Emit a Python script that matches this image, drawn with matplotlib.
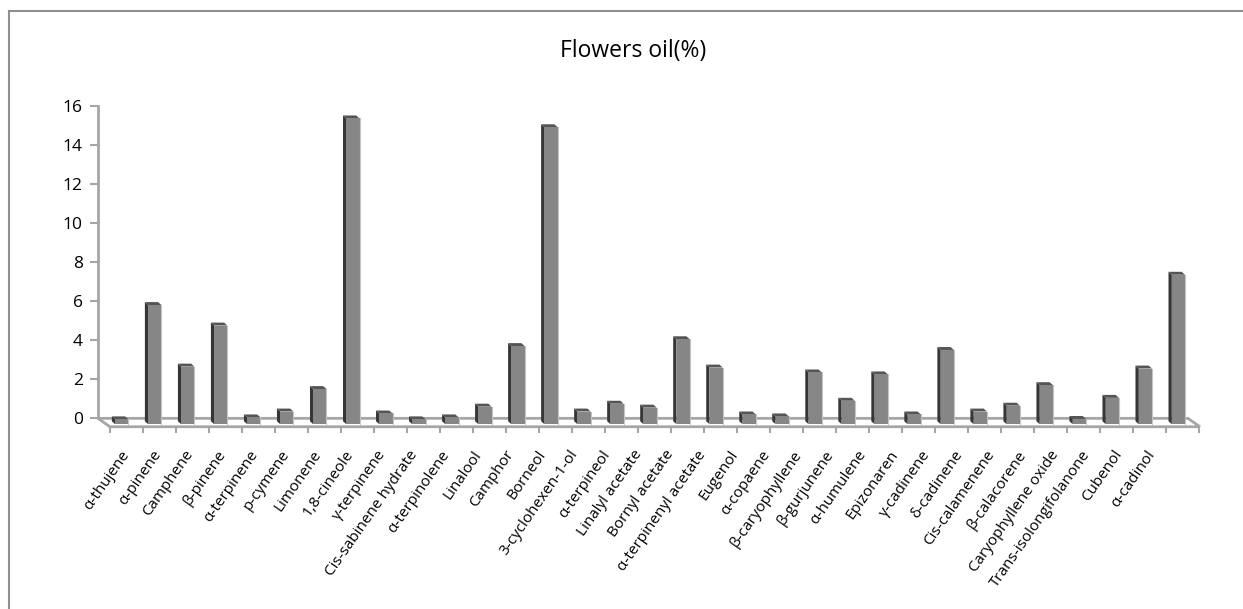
import matplotlib
matplotlib.use("Agg")
import matplotlib.pyplot as plt
from matplotlib.patches import Polygon, Rectangle
from matplotlib.lines import Line2D

plt.rcParams['font.family'] = ['Open Sans', 'DejaVu Sans']

# Composition of the flower essential oil (%)
compounds = [
    'α-thujene', 'α-pinene', 'Camphene', 'β-pinene', 'α-terpinene', 'p-cymene',
    'Limonene', '1,8-cineole', 'γ-terpinene', 'Cis-sabinene hydrate',
    'α-terpinolene', 'Linalool', 'Camphor', 'Borneol', '3-cyclohexen-1-ol',
    'α-terpineol', 'Linalyl acetate', 'Bornyl acetate', 'α-terpinenyl acetate',
    'Eugenol', 'α-copaene', 'β-caryophyllene', 'β-gurjunene', 'α-humulene',
    'Epizonaren', 'γ-cadinene', 'δ-cadinene', 'Cis-calamenene', 'β-calacorene',
    'Caryophyllene oxide', 'Trans-isolongifolanone', 'Cubenol', 'α-cadinol',
]
oil_pct = [
    0.1, 5.95, 2.8, 4.9, 0.2, 0.5,
    1.65, 15.5, 0.4, 0.1,
    0.2, 0.75, 3.85, 15.05, 0.5,
    0.9, 0.7, 4.2, 2.75,
    0.35, 0.25, 2.5, 1.05, 2.4,
    0.35, 3.65, 0.5, 0.8, 1.85,
    0.12, 1.2, 2.7, 7.5,
]
y_ticks = list(range(0, 17, 2))

W, H = 1243, 609
fig = plt.figure(figsize=(W / 100, H / 100), dpi=100)

# pixel-based placement of the plot area
x0, x1 = -0.67, 32.72
y0, y1 = -1.0, 16.0
px_x, px_y = 33.02, 19.54
left_px, top_px = 98, 105.7
ax = fig.add_axes([left_px / W, 1 - (top_px + (y1 - y0) * px_y) / H,
                   (x1 - x0) * px_x / W, (y1 - y0) * px_y / H])
ax.set_xlim(x0, x1)
ax.set_ylim(y0, y1)

axis_grey = '#a6a6a6'
for s in ['top', 'right', 'bottom']:
    ax.spines[s].set_visible(False)
ax.spines['left'].set_bounds(0, 16)
ax.spines['left'].set_color(axis_grey)
ax.spines['left'].set_linewidth(2)
ax.set_yticks(y_ticks)
ax.tick_params(axis='y', length=6, width=1.5, color=axis_grey, pad=5,
               labelsize=12.5, labelcolor='black')

# floor plate of the 3-D chart
depth_x, depth_y = 0.36, -0.43
floor = Polygon([(x0, 0), (32.34, 0), (32.34 + depth_x, depth_y),
                 (x0 + depth_x, depth_y)], closed=True,
                facecolor='white', edgecolor=axis_grey, lw=2, zorder=1)
ax.add_patch(floor)

# category tick marks on the front edge of the floor
n = len(compounds)
bounds = [i - 0.32 for i in range(n + 1)]
ax.vlines(bounds, depth_y, depth_y - 0.3, color=axis_grey, lw=1.5, zorder=1)

# bars drawn as front face, dark left side and top face
bw, dx, dy, base = 0.40, 0.10, 0.15, -0.3
for i, v in enumerate(oil_pct):
    xl, xr = i - 0.15, i + 0.25
    yt = v - dy
    ax.add_patch(Polygon([(xl, base), (xl, yt), (xl - dx, yt + dy),
                          (xl - dx, base + dy)], closed=True,
                         facecolor='#363636', edgecolor='none', zorder=3))
    ax.add_patch(Polygon([(xl, yt), (xr, yt), (xr - dx, yt + dy),
                          (xl - dx, yt + dy)], closed=True,
                         facecolor='#555555', edgecolor='none', zorder=3))
    ax.add_patch(Rectangle((xl, base), bw, yt - base, facecolor='#868686',
                           edgecolor='none', zorder=3))
    ax.plot([xr, xr], [base, yt], color='#c4c4c4', lw=0.8, zorder=4)

# category labels sit slightly tighter than the bars
ax.set_xticks([0.2 + i * 0.97 for i in range(n)])
ax.set_xticklabels(compounds, rotation=55, ha='right', va='center',
                   rotation_mode='anchor', fontsize=11, color='black')
ax.tick_params(axis='x', length=0, pad=10)

fig.text(633 / W, 1 - 51 / H, 'Flowers oil(%)', ha='center', va='center',
         fontsize=16.5, color='black')

# chart area border
fig.add_artist(Line2D([9 / W, 1.0], [1 - 11 / H, 1 - 11 / H],
                      transform=fig.transFigure, color='#8f8f8f', lw=1.5))
fig.add_artist(Line2D([9 / W, 9 / W], [0.0, 1 - 11 / H],
                      transform=fig.transFigure, color='#8f8f8f', lw=1.5))

fig.savefig('out.png', dpi=100)
